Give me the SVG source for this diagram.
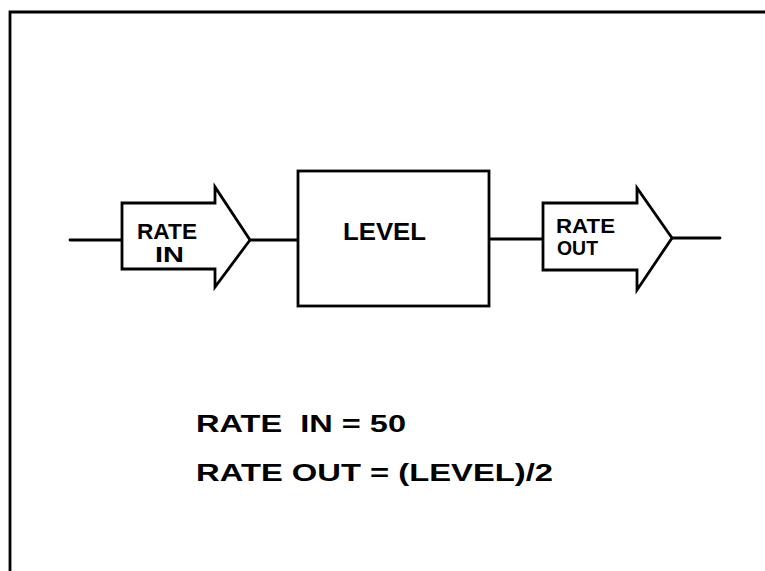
<svg xmlns="http://www.w3.org/2000/svg" width="765" height="571" viewBox="0 0 765 571">
<style>
.s{fill:none;stroke:#000;stroke-width:2.8;stroke-linejoin:miter;stroke-linecap:round}
.n{fill:#fff;stroke:#000;stroke-width:2.8;stroke-linejoin:miter}
.t{font-family:"Liberation Sans",Arial,sans-serif;font-weight:bold;fill:#000}
</style>
<rect width="765" height="571" fill="#fff"/>
<path id="frame" class="s" d="M10,571 L10,12 L765,12"/>
<g id="connectors">
<line class="s" x1="70" y1="240" x2="122" y2="240"/>
<line class="s" x1="250" y1="240" x2="298" y2="240"/>
<line class="s" x1="489" y1="239" x2="543" y2="239"/>
<line class="s" x1="672" y1="238" x2="720" y2="238"/>
</g>
<g id="rate-in">
<path class="n" d="M122,203 L215,203 L215,187 L250,240 L215,287 L215,269 L122,269 Z"/>
<text class="t" x="137" y="239" font-size="22" textLength="60" lengthAdjust="spacingAndGlyphs">RATE</text>
<text class="t" x="155" y="262" font-size="22" textLength="29" lengthAdjust="spacingAndGlyphs">IN</text>
</g>
<g id="level">
<rect class="n" x="298" y="171" width="191" height="135"/>
<text class="t" x="343" y="240" font-size="23" textLength="83" lengthAdjust="spacingAndGlyphs">LEVEL</text>
</g>
<g id="rate-out">
<path class="n" d="M543,203 L637,203 L637,188 L672,238 L637,290 L637,270 L543,270 Z"/>
<text class="t" x="556" y="233" font-size="20" textLength="59" lengthAdjust="spacingAndGlyphs">RATE</text>
<text class="t" x="557" y="255" font-size="20" textLength="41" lengthAdjust="spacingAndGlyphs">OUT</text>
</g>
<g id="equations">
<text class="t" x="196" y="432" font-size="23" textLength="210" lengthAdjust="spacingAndGlyphs" xml:space="preserve">RATE  IN = 50</text>
<text class="t" x="196" y="481" font-size="23" textLength="357" lengthAdjust="spacingAndGlyphs">RATE OUT = (LEVEL)/2</text>
</g>
</svg>
